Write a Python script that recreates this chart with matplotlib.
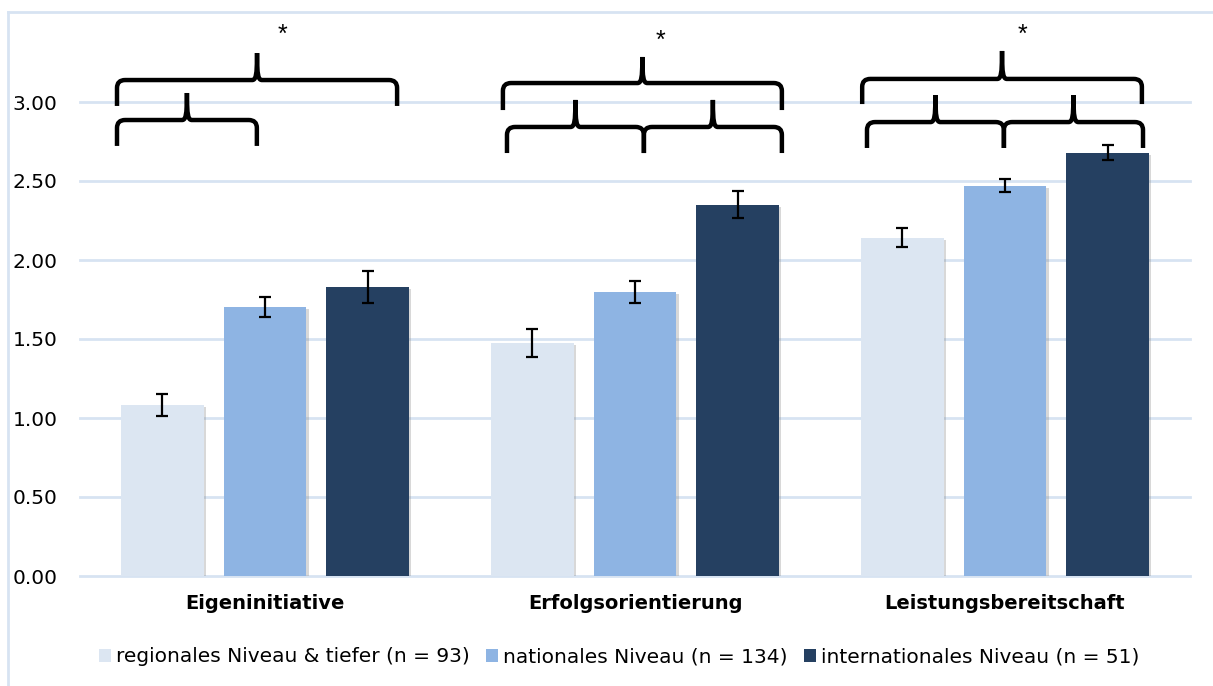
import matplotlib
matplotlib.use("Agg")
import matplotlib.pyplot as plt
import numpy as np
from matplotlib.path import Path
from matplotlib.patches import PathPatch, Patch
from matplotlib.lines import Line2D
import matplotlib.patheffects as pe

plt.rcParams['font.family'] = ['DejaVu Sans']

categories = ["Eigeninitiative", "Erfolgsorientierung", "Leistungsbereitschaft"]
series_names = ["regionales Niveau & tiefer (n = 93)",
                "nationales Niveau (n = 134)",
                "internationales Niveau (n = 51)"]
regional = [1.08, 1.475, 2.14]
regional_err = [0.07, 0.09, 0.06]
national = [1.70, 1.80, 2.47]
national_err = [0.063, 0.07, 0.04]
international = [1.83, 2.35, 2.68]
international_err = [0.10, 0.085, 0.05]
yticks = [0.0, 0.5, 1.0, 1.5, 2.0, 2.5, 3.0]
colors = ["#dce6f2", "#8eb4e3", "#254061"]
grid_color = "#d7e3f2"

fig = plt.figure(figsize=(12.13, 6.86), dpi=100)
ax = fig.add_axes([80/1213, 1-576/686, 1110/1213, 553/686])

x = np.arange(len(categories))
w = 0.224
step = 0.278
values = [regional, national, international]
errs = [regional_err, national_err, international_err]
for i, (v, e, c) in enumerate(zip(values, errs, colors)):
    bars = ax.bar(x + (i-1)*step, v, width=w, color=c, zorder=3,
                  label=series_names[i])
    for b in bars:
        b.set_path_effects([pe.SimplePatchShadow(offset=(1.5, -1.5), shadow_rgbFace='#808080', alpha=0.3), pe.Normal()])
    ax.errorbar(x + (i-1)*step, v, yerr=e, fmt='none', ecolor='black',
                elinewidth=1.6, capsize=4.5, capthick=1.6, zorder=4)

ax.set_xlim(-0.5, 2.5)
ax.set_ylim(0, 3.5)
ax.set_yticks(yticks)
ax.set_yticklabels([f"{t:.2f}" for t in yticks], fontsize=14.5)
ax.set_xticks(x)
ax.set_xticklabels(categories, fontsize=14, fontweight='bold')
ax.tick_params(axis='both', length=0)
ax.tick_params(axis='y', pad=16)
ax.tick_params(axis='x', pad=13)
for s in ax.spines.values():
    s.set_visible(False)
ax.yaxis.grid(True, color=grid_color, linewidth=2, zorder=0)
ax.set_axisbelow(True)
for gl in ax.get_ygridlines():
    gl.set_clip_on(False)


def brace(ax, x0, x1, yh, ytip, yend, rx=0.022, ry=0.05, lw=3.2):
    xm = (x0 + x1) / 2
    verts = [
        (x0, yend), (x0, yh - ry), (x0, yh), (x0 + rx, yh),
        (xm - rx*0.6, yh), (xm - rx*0.15, yh), (xm, yh + ry*0.6), (xm, ytip),
        (xm, ytip), (xm, yh + ry*0.6), (xm + rx*0.15, yh), (xm + rx*0.6, yh),
        (x1 - rx, yh), (x1, yh), (x1, yh - ry), (x1, yend),
    ]
    codes = [Path.MOVETO, Path.LINETO, Path.CURVE3, Path.CURVE3,
             Path.LINETO, Path.CURVE4, Path.CURVE4, Path.CURVE4,
             Path.MOVETO, Path.CURVE4, Path.CURVE4, Path.CURVE4,
             Path.LINETO, Path.CURVE3, Path.CURVE3, Path.LINETO]
    p = PathPatch(Path(verts, codes), facecolor='none', edgecolor='black',
                  lw=lw, clip_on=False, zorder=5, capstyle='butt', joinstyle='round')
    ax.add_patch(p)

# brace annotations: (group, x0 offset, x1 offset, horizontal y, tip y, end y)
braces_big = [(0, -0.400, 0.357, 3.139, 3.310, 2.975),
              (1, -0.357, 0.397, 3.120, 3.285, 2.949),
              (2, -0.386, 0.370, 3.146, 3.323, 2.987)]
braces_small = [(0, -0.400, -0.022, 2.886, 3.057, 2.722),
                (1, -0.346, 0.024, 2.842, 3.013, 2.677),
                (1, 0.024, 0.397, 2.842, 3.013, 2.677),
                (2, -0.373, -0.003, 2.873, 3.044, 2.709),
                (2, -0.003, 0.373, 2.873, 3.044, 2.709)]
for g, a, b, yh, yt, ye in braces_big + braces_small:
    brace(ax, g + a, g + b, yh, yt, ye)

stars = [(0.046, 3.383), (1.068, 3.345), (2.046, 3.383)]
for sx, sy in stars:
    ax.text(sx, sy, "*", ha='center', va='baseline', fontsize=18,
            family=['Liberation Sans'], clip_on=False)

# outer frame
fig.add_artist(Line2D([8/1213, 1], [1-12/686, 1-12/686], color=grid_color, lw=2))
fig.add_artist(Line2D([8/1213, 8/1213], [0, 1-12/686], color=grid_color, lw=2))

handles = [Patch(facecolor=c, edgecolor='none') for c in colors]
fig.legend(handles, series_names, loc='center', bbox_to_anchor=(619/1213, 1-657/686),
           ncol=3, frameon=False, fontsize=14.5, handlelength=0.6, handleheight=0.6,
           handletextpad=0.25, columnspacing=0.8, borderaxespad=0)

fig.savefig("out.png", dpi=100)
